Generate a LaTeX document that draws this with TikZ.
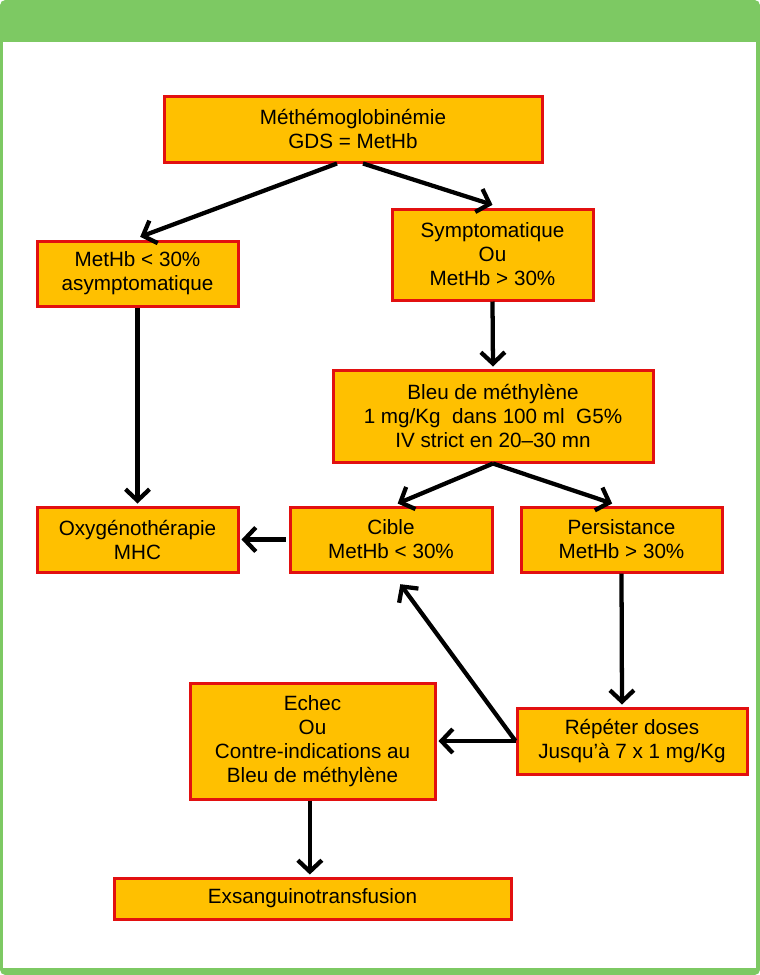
\documentclass[tikz,border=0pt]{standalone}
\usepackage{fontspec}
\setmainfont{Liberation Sans}
\usetikzlibrary{arrows.meta}

\definecolor{frameGreen}{RGB}{125,201,99}
\definecolor{boxOrange}{RGB}{255,192,0}
\definecolor{boxRed}{RGB}{226,16,16}

\tikzset{every picture/.style={line width=0.75pt}}
\tikzset{
  stepbox/.style={draw=boxRed, fill=boxOrange, line width=2.25pt, align=center,
    inner sep=0.75pt, font=\fontsize{15.5}{18}\selectfont},
  flow/.style={line width=3.2pt, -{Straight Barb[length=8.5pt,width=18pt]}}
}

\begin{document}
\begin{tikzpicture}[x=0.75pt,y=0.75pt,yscale=-1,xscale=1]
    \useasboundingbox (0,0) rectangle (760,975);

    %Shape: Frame
    \fill [frameGreen, rounded corners=4pt] (0,0) rectangle (760,975);
    \fill [white] (3,42) rectangle (756,968);

    % Boxes
    \node [stepbox, minimum width=283.5pt, minimum height=49.5pt] (methem) at (353,129) {Méthémoglobinémie\\GDS = MetHb};
    \node [stepbox, minimum width=150.75pt, minimum height=48.75pt] (asympto) at (137.5,273.5) {MetHb < 30\%\\asymptomatique};
    \node [stepbox, minimum width=150.75pt, minimum height=68.25pt] (sympto) at (492.5,254.5) {Symptomatique\\Ou\\MetHb > 30\%};
    \node [stepbox, minimum width=240pt, minimum height=69pt] (bleu) at (493,416) {Bleu de méthylène\\1 mg/Kg\ \ dans 100 ml\ \ G5\%\\IV strict en 20--30 mn};
    \node [stepbox, minimum width=150.75pt, minimum height=48.75pt] (oxygen) at (137.5,539.5) {Oxygénothérapie\\MHC};
    \node [stepbox, minimum width=151.5pt, minimum height=48.75pt] (cible) at (391,539.5) {Cible\\MetHb < 30\%};
    \node [stepbox, minimum width=150.75pt, minimum height=48.75pt] (persist) at (621.5,539.5) {Persistance\\MetHb > 30\%};
    \node [stepbox, minimum width=183.75pt, minimum height=87pt] (echec) at (312.5,741) {Echec\\Ou\\Contre-indications au\\Bleu de méthylène};
    \node [stepbox, minimum width=172.5pt, minimum height=49.5pt] (repeter) at (632,741) {Répéter doses\\Jusqu’à 7 x 1 mg/Kg};
    \node [stepbox, minimum width=297.75pt, minimum height=30.75pt] (exsang) at (312.5,898.5) {Exsanguinotransfusion};

    % Arrows
    \draw [flow] ([xshift=-12pt]methem.south) -- ([shift={(2pt,-2pt)}]asympto.north);
    \draw [flow] ([xshift=7.5pt]methem.south) -- ([yshift=-2pt]sympto.north);
    \draw [flow] (sympto.south) -- ([yshift=-1.5pt]bleu.north);
    \draw [flow] (asympto.south) -- ([yshift=-1.5pt]oxygen.north);
    \draw [flow] (bleu.south) -- ([shift={(5pt,-1.5pt)}]cible.north);
    \draw [flow] (bleu.south) -- ([shift={(-7pt,-1.5pt)}]persist.north);
    \draw [flow] ([xshift=-2pt]cible.west) -- ([xshift=1.5pt]oxygen.east);
    \draw [flow] (persist.south) -- ([shift={(-7.5pt,-1.5pt)}]repeter.north);
    \draw [flow] (repeter.west) -- ([xshift=1.5pt]echec.east);
    \draw [flow] (repeter.west) -- ([shift={(7pt,8pt)}]cible.south);
    \draw [flow] ([xshift=-2pt]echec.south) -- ([shift={(-2pt,-1.5pt)}]exsang.north);
\end{tikzpicture}
\end{document}
